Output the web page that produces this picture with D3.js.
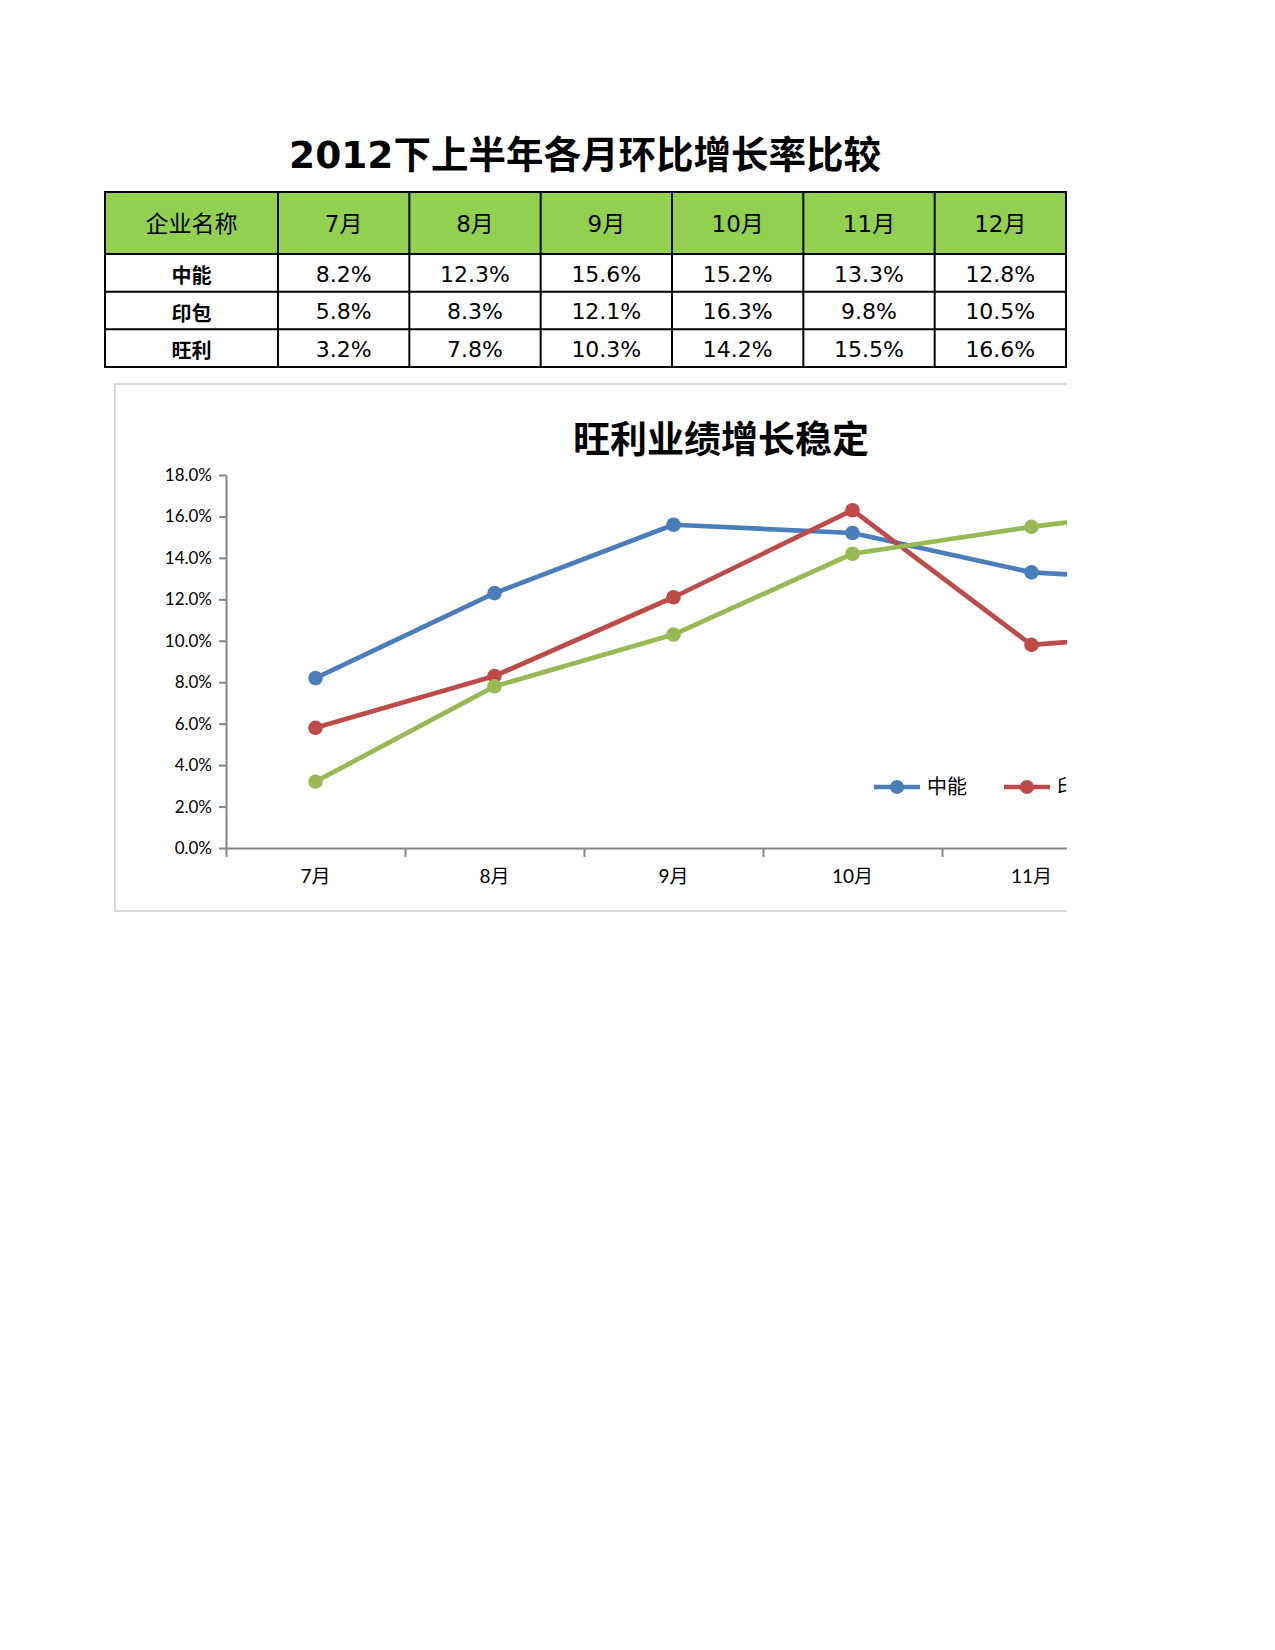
<!DOCTYPE html>
<html>
<head>
<meta charset="utf-8">
<script src="https://cdn.jsdelivr.net/npm/d3@7"></script>
<style>
  body { margin: 0; background: #fff; }
  svg { display: block; }
</style>
</head>
<body>
<div id="chart"></div>
<script>
// data
var months = ["7月", "8月", "9月", "10月", "11月", "12月"];
var companies = ["中能", "印包", "旺利"];
var zhongneng = [0.082, 0.123, 0.156, 0.152, 0.133, 0.128];
var yinbao = [0.058, 0.083, 0.121, 0.163, 0.098, 0.105];
var wangli = [0.032, 0.078, 0.103, 0.142, 0.155, 0.166];
var yTicks = [0, 0.02, 0.04, 0.06, 0.08, 0.10, 0.12, 0.14, 0.16, 0.18];

var seriesValues = [zhongneng, yinbao, wangli];
var colors = ["#4A7EBB", "#BE4B48", "#98B954"];

var W = 1275, H = 1650;
var cjk = "'DejaVu Sans', 'Noto Sans CJK SC', sans-serif";
var lato = "Lato, 'Noto Sans CJK SC', sans-serif";

var svg = d3.select("#chart").append("svg")
    .attr("width", W)
    .attr("height", H);

// everything on the sheet is cut at the print edge
svg.append("defs").append("clipPath")
    .attr("id", "page")
    .append("rect")
    .attr("x", 0).attr("y", 0)
    .attr("width", 1067).attr("height", H);

var page = svg.append("g").attr("clip-path", "url(#page)");

// ---------- table ----------
var tLeft = 105, tFirst = 278, tRight = 1066;
var headTop = 192, headBottom = 254, tBottom = 367;

var col = d3.scaleBand().domain(months).range([tFirst, tRight]);
var row = d3.scaleBand().domain(companies).range([headBottom, tBottom]);

page.append("text")
    .attr("x", 585)
    .attr("y", 168)
    .attr("text-anchor", "middle")
    .style("font-family", cjk)
    .style("font-size", "37.5px")
    .style("font-weight", "bold")
    .text("2012下上半年各月环比增长率比较");

var table = page.append("g");

table.append("rect")
    .attr("x", tLeft).attr("y", headTop)
    .attr("width", tRight - tLeft).attr("height", headBottom - headTop)
    .style("fill", "#92D050");

table.append("text")
    .attr("x", (tLeft + tFirst) / 2)
    .attr("y", (headTop + headBottom) / 2 + 1)
    .attr("dy", "0.35em")
    .attr("text-anchor", "middle")
    .style("font-family", cjk)
    .style("font-size", "23px")
    .text("企业名称");

table.selectAll(".head")
    .data(months)
    .enter().append("text")
    .attr("class", "head")
    .attr("x", function (d) { return col(d) + col.bandwidth() / 2; })
    .attr("y", (headTop + headBottom) / 2 + 1)
    .attr("dy", "0.35em")
    .attr("text-anchor", "middle")
    .style("font-family", cjk)
    .style("font-size", "23px")
    .text(function (d) { return d; });

var rows = table.selectAll(".row")
    .data(companies)
    .enter().append("g")
    .attr("class", "row")
    .attr("transform", function (d) { return "translate(0," + (row(d) + row.bandwidth() / 2) + ")"; });

rows.append("text")
    .attr("x", (tLeft + tFirst) / 2)
    .attr("y", 3)
    .attr("dy", "0.35em")
    .attr("text-anchor", "middle")
    .style("font-family", cjk)
    .style("font-size", "20px")
    .style("font-weight", "bold")
    .text(function (d) { return d; });

rows.selectAll(".val")
    .data(function (d, i) { return seriesValues[i]; })
    .enter().append("text")
    .attr("class", "val")
    .attr("x", function (d, i) { return col(months[i]) + col.bandwidth() / 2; })
    .attr("y", 1)
    .attr("dy", "0.35em")
    .attr("text-anchor", "middle")
    .style("font-family", cjk)
    .style("font-size", "22px")
    .text(function (d) { return d3.format(".1%")(d); });

// grid lines of the table
var hLines = [headTop, headBottom].concat(companies.map(function (d) { return row(d) + row.bandwidth(); }));
var vLines = [tLeft, tFirst].concat(months.map(function (d) { return col(d) + col.bandwidth(); }));

table.selectAll(".hl")
    .data(hLines)
    .enter().append("line")
    .attr("x1", tLeft - 1).attr("x2", tRight + 1)
    .attr("y1", function (d) { return d; }).attr("y2", function (d) { return d; })
    .style("stroke", "#000").style("stroke-width", 2);

table.selectAll(".vl")
    .data(vLines)
    .enter().append("line")
    .attr("x1", function (d) { return d; }).attr("x2", function (d) { return d; })
    .attr("y1", headTop).attr("y2", tBottom)
    .style("stroke", "#000").style("stroke-width", 2);

// ---------- line chart ----------
var box = { left: 115, top: 384, right: 1327, bottom: 911 };

page.append("rect")
    .attr("x", box.left).attr("y", box.top)
    .attr("width", box.right - box.left).attr("height", box.bottom - box.top)
    .style("fill", "#fff")
    .style("stroke", "#D9D9D9")
    .style("stroke-width", 2);

page.append("text")
    .attr("x", (box.left + box.right) / 2)
    .attr("y", 453)
    .attr("text-anchor", "middle")
    .style("font-family", "'Noto Sans CJK SC', sans-serif")
    .style("font-size", "37px")
    .style("font-weight", "bold")
    .text("旺利业绩增长稳定");

var plotLeft = 226, plotBottom = 848, plotTop = 475;
var step = 179;

var x = d3.scaleBand().domain(months).range([plotLeft, plotLeft + step * months.length]);
var xEdge = d3.scaleLinear().domain([0, months.length]).range(x.range());
var y = d3.scaleLinear().domain([0, 0.18]).range([plotBottom, plotTop]);

var yAxis = page.append("g")
    .attr("transform", "translate(" + plotLeft + ",0)")
    .call(d3.axisLeft(y).tickValues(yTicks).tickFormat(d3.format(".1%")).tickSize(7).tickPadding(7).tickSizeOuter(0));

var xTicks = page.append("g")
    .attr("transform", "translate(0," + plotBottom + ")")
    .call(d3.axisBottom(xEdge).ticks(months.length).tickFormat("").tickSize(9).tickSizeOuter(0));

var xLabels = page.append("g")
    .attr("transform", "translate(0," + plotBottom + ")")
    .call(d3.axisBottom(x).tickSize(0).tickPadding(22));
xLabels.select(".domain").remove();

[yAxis, xTicks].forEach(function (g) {
    g.selectAll("path, line").style("stroke", "#868686").style("stroke-width", 2);
});
yAxis.selectAll("text").style("font-family", lato).style("font-size", "17px").style("fill", "#000");
xLabels.selectAll("text").style("font-family", lato).style("font-size", "19px").style("fill", "#000");

var line = d3.line()
    .x(function (d, i) { return x(months[i]) + x.bandwidth() / 2; })
    .y(function (d) { return y(d); });

var series = page.selectAll(".series")
    .data(seriesValues)
    .enter().append("g")
    .attr("class", "series");

series.append("path")
    .attr("d", function (d) { return line(d); })
    .style("fill", "none")
    .style("stroke", function (d, i) { return colors[i]; })
    .style("stroke-width", 4.7)
    .style("stroke-linejoin", "round");

series.selectAll("circle")
    .data(function (d, i) { return d.map(function (v) { return { v: v, c: colors[i] }; }); })
    .enter().append("circle")
    .attr("cx", function (d, i) { return x(months[i]) + x.bandwidth() / 2; })
    .attr("cy", function (d) { return y(d.v); })
    .attr("r", 7.3)
    .style("fill", function (d) { return d.c; });

// legend
var legend = page.selectAll(".legend")
    .data(companies)
    .enter().append("g")
    .attr("class", "legend")
    .attr("transform", function (d, i) { return "translate(" + (874 + i * 130) + ",787)"; });

legend.append("line")
    .attr("x1", 0).attr("x2", 46)
    .style("stroke", function (d, i) { return colors[i]; })
    .style("stroke-width", 4.7);

legend.append("circle")
    .attr("cx", 23).attr("r", 7)
    .style("fill", function (d, i) { return colors[i]; });

legend.append("text")
    .attr("x", 53)
    .attr("dy", "0.35em")
    .style("font-family", "'Noto Sans CJK SC', sans-serif")
    .style("font-size", "20px")
    .text(function (d) { return d; });
</script>
</body>
</html>
